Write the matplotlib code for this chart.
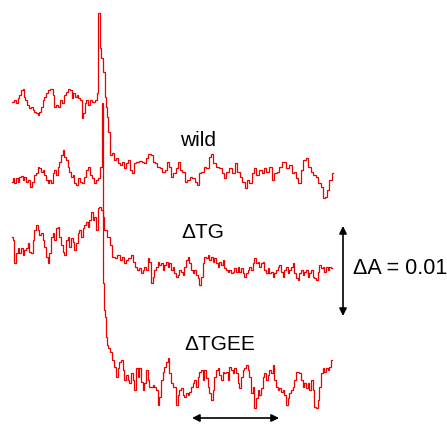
import matplotlib
matplotlib.use("Agg")
import matplotlib.pyplot as plt

# Flash-induced absorbance transients (time relative to flash, signal as
# absorbance decrease in trace units; 90 units correspond to dA = 0.01)

wild_t = [-87, -84, -82, -81, -79, -77, -76, -75, -73, -71, -69, -67, -66, -64, -62, -61,
          -59, -57, -56, -54, -52, -51, -47, -46, -45, -42, -40, -38, -36, -34, -32, -31,
          -28, -27, -25, -23, -22, -20, -18, -17, -15, -14, -12, -10, -8, -6, -3, -2,
          0, 1, 3, 5, 6, 7, 8, 10,
          12, 14, 16, 18, 19, 22, 24, 26, 28, 30, 32, 34, 36, 38, 41, 44, 46, 48, 50, 53,
          55, 57, 59, 62, 64, 67, 69, 71, 73, 75, 78, 80, 82, 84, 87, 89, 92, 94, 97, 99,
          101, 103, 106, 108, 111, 113, 115, 118, 121, 124, 126, 128, 131, 134, 137, 139,
          142, 144, 147, 149, 151, 154, 156, 158, 161, 164, 166, 168, 171, 174, 176, 179,
          181, 184, 186, 188, 191, 194, 196, 198, 200, 203, 205, 208, 210, 213, 215, 218,
          220, 223, 225, 227, 229, 231, 234]
wild_d = [2, 0, 3, -2, -5, -10, -11, -3, 0, 5, 8, 7, 10, 12, 13, 15,
          12, 7, 0, -3, -7, -10, -11, -5, 7, 5, 7, 0, 3, -5, -8, -11,
          -10, -2, -7, -3, -5, -2, 0, 18, 13, 3, 0, 5, 0, 2, 0, -7,
          -87, -52, -42, -28, -3, 7, 17, 32,
          55, 53, 60, 58, 63, 65, 62, 68, 63, 60, 70, 73, 63, 62, 61, 62, 63, 58, 54, 55,
          62, 63, 67, 68, 72, 70, 62, 67, 77, 73, 68, 62, 70, 72, 82, 80, 77, 78, 82, 85,
          73, 72, 67, 68, 57, 54, 63, 67, 68, 73, 78, 72, 68, 73, 63, 72,
          77, 82, 88, 80, 83, 73, 68, 75, 70, 73, 68, 72, 67, 80, 73, 72,
          67, 62, 62, 68, 65, 73, 72, 78, 83, 70, 60, 58, 67, 72, 75, 77,
          83, 87, 98, 97, 90, 80, 73]

tg_t = [-87, -86, -84, -82, -81, -79, -77, -76, -74, -72, -71, -69, -67, -66, -64, -62,
        -61, -59, -57, -56, -54, -52, -51, -49, -47, -46, -44, -42, -41, -39, -37, -36,
        -34, -32, -31, -29, -27, -26, -24, -22, -21, -19, -17, -16, -14, -12, -11, -9,
        -7, -6, -4, -2, -1, 1,
        3, 4, 6, 9, 12, 14, 17, 19, 22, 24, 26, 28, 30, 33, 34, 37, 39, 41, 43, 44,
        46, 48, 49, 51, 53, 54, 56, 58, 59, 61, 63, 64, 66, 68, 69, 71, 73, 74, 76, 78,
        79, 81, 83, 84, 86, 88, 89, 91, 93, 94, 96, 98, 99, 101, 103, 104, 106, 108, 109,
        111, 113, 114, 116, 118, 119, 121, 123, 124, 126, 128, 129, 131, 133, 134, 136,
        138, 139, 141, 143, 144, 146, 148, 149, 151, 153, 154, 156, 158, 159, 161, 163,
        164, 166, 168, 169, 171, 173, 174, 176, 178, 179, 181, 183, 184, 186, 188, 189,
        191, 193, 194, 196, 198, 199, 201, 203, 204, 206, 208, 209, 211, 213, 214, 216,
        218, 219, 221, 223, 224, 226, 228, 229, 231, 233]
tg_d = [-8, -5, 18, 8, 3, 8, 3, 10, 5, 3, -2, 7, 8, -5, -15, -20,
        -15, -10, -12, -5, 2, 12, 18, 8, -8, -12, -5, -17, -18, -8, 0, 7,
        10, -5, -8, 2, -7, -3, 5, -2, -12, -15, -8, -17, -20, -23, -18, -25,
        -33, -25, -28, -15, -37, -38,
        -35, -28, -15, -8, 0, 12, 13, 10, 15, 12, 18, 15, 13, 10, 17, 22, 25, 23, 28, 25,
        22, 25, 13, 17, 38, 32, 25, 22, 17, 20, 18, 25, 20, 17, 22, 18, 25, 22, 28, 32,
        30, 25, 27, 30, 22, 15, 12, 18, 25, 28, 25, 30, 33, 40, 32, 18, 12, 13, 10,
        15, 12, 17, 13, 18, 22, 17, 20, 15, 23, 25, 27, 25, 28, 27, 23,
        27, 22, 27, 23, 28, 32, 28, 25, 22, 25, 18, 13, 18, 17, 22, 18,
        17, 25, 28, 23, 28, 27, 32, 28, 25, 22, 20, 27, 32, 25, 22, 28,
        25, 22, 18, 28, 33, 35, 28, 25, 30, 27, 25, 32, 28, 25, 32, 33,
        35, 27, 20, 23, 22, 27, 22, 25, 22, 23]

tgee_t = [-87, -86, -84, -82, -81, -79, -77, -76, -74, -72, -70, -68, -66, -64, -62, -61,
          -59, -57, -56, -54, -52, -51, -49, -47, -46, -44, -42, -41, -39, -37, -36, -34,
          -32, -31, -29, -27, -26, -24, -22, -20, -18, -16, -14, -12, -10, -8, -6, -4,
          -2, 0, 2, 3,
          4, 5, 6, 7, 8, 10, 12, 13,
          16, 18, 19, 21, 23, 24, 26, 28, 29, 31, 33, 34, 36, 38, 39, 41, 43, 44, 46, 48,
          49, 51, 53, 54, 56, 58, 59, 61, 63, 64, 66, 68, 69, 71, 73, 74, 76, 78, 79, 81,
          83, 84, 86, 88, 89, 91, 93, 94, 96, 98, 99, 101, 103, 104, 106, 108, 109, 111,
          113, 114, 116, 118, 119, 121, 123, 124, 126, 128, 129, 131, 133, 134, 136, 138,
          139, 141, 143, 144, 146, 148, 149, 151, 153, 154, 156, 158, 159, 161, 163, 164,
          166, 168, 169, 171, 173, 174, 176, 178, 179, 181, 183, 184, 186, 188, 189, 191,
          193, 194, 196, 198, 199, 201, 203, 204, 206, 208, 209, 211, 213, 214, 216, 218,
          219, 221, 223, 224, 226, 228, 229, 231, 233]
tgee_d = [4, 0, 5, 0, 4, -1, -2, 2, -1, 4, 2, 9, 4, -3, -5, -11,
          -10, -6, -8, -3, 2, 5, 2, 5, -5, -8, -3, -11, -16, -23, -28, -21,
          -18, -11, -6, -1, -3, 5, 7, 0, 4, 5, -1, -8, -11, -3, 0, 5,
          2, 0, -11, -75,
          105, 132, 139, 159, 167, 170, 174, 182,
          189, 199, 190, 184, 182, 192, 202, 197, 202, 205, 195, 202, 212, 190, 199, 190,
          204, 212, 205, 192, 202, 209, 209, 207, 209, 212, 227, 219, 202, 194, 189, 184,
          180, 195, 205, 209, 209, 227, 217, 212, 210, 217, 219, 215, 217, 214, 209, 205,
          202, 209, 199, 194, 192, 202, 192, 200, 209, 215, 222, 212, 199, 192, 190, 197,
          202, 194, 195, 194, 202, 189, 192, 195, 190, 195, 205, 210, 199, 192, 190, 187,
          192, 199, 215, 209, 230, 220, 212, 217, 210, 199, 195, 202, 197, 192, 195, 187,
          202, 209, 212, 210, 214, 212, 217, 227, 220, 215, 212, 209, 202, 194, 194, 195,
          202, 209, 205, 210, 205, 212, 202, 212, 229, 230, 222, 209, 195, 190, 194, 190,
          192, 189, 182]

labels = ["wild", "\u0394TG", "\u0394TGEE"]
scale_label = "\u0394A = 0.01"

# vertical stacking of the traces (pre-flash baseline of each trace)
offsets = {"wild": 100, "tgee": 178, "tg": 245}
DA_BAR = 90  # trace units for dA = 0.01

red = "#ec0000"
plt.rcParams["font.family"] = ["Liberation Sans", "DejaVu Sans"]
FS = 15

fig = plt.figure(figsize=(4.47, 4.24), dpi=100)
ax = fig.add_axes([0, 0, 1, 1])
ax.set_xlim(-99, 348)
ax.set_ylim(424, 0)
ax.axis("off")

for t, d, key in [(wild_t, wild_d, "wild"), (tgee_t, tgee_d, "tgee"), (tg_t, tg_d, "tg")]:
    ax.plot(t, [offsets[key] + v for v in d], color=red, lw=0.9,
            drawstyle="steps-mid", solid_joinstyle="miter")

# trace labels
ax.text(81, 146, labels[0], fontsize=FS, color="black", va="baseline", ha="left")
ax.text(82, 238, labels[1], fontsize=FS, color="black", va="baseline", ha="left")
ax.text(85, 350, labels[2], fontsize=FS, color="black", va="baseline", ha="left")

# absorbance scale bar
bar_top = 226
ax.annotate("", xy=(244, bar_top), xytext=(244, bar_top + DA_BAR),
            arrowprops=dict(arrowstyle="<|-|>", color="black", lw=1.2,
                            mutation_scale=11, shrinkA=0, shrinkB=0))
ax.text(254, 274, scale_label, fontsize=15.5, color="black", va="baseline", ha="left")

# time scale bar
ax.annotate("", xy=(93, 418), xytext=(180, 418),
            arrowprops=dict(arrowstyle="<|-|>", color="black", lw=1.2,
                            mutation_scale=11, shrinkA=0, shrinkB=0))

fig.savefig("out.png", dpi=100)
